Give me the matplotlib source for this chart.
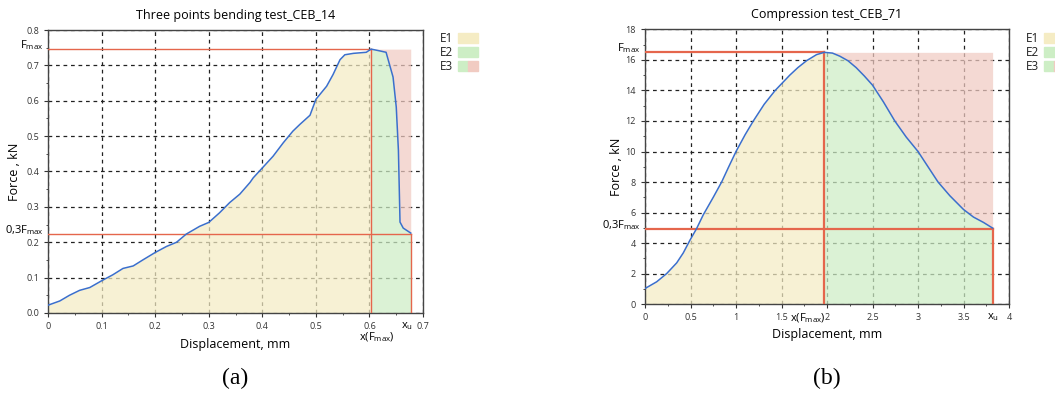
import numpy as np
import matplotlib.pyplot as plt
from matplotlib.patches import Rectangle
from matplotlib.ticker import MultipleLocator

plt.rcParams['font.family'] = ['Open Sans', 'DejaVu Sans']
plt.rcParams['mathtext.default'] = 'regular'

# three points bending test (a)
bend_x = [0.0, 0.022, 0.04, 0.059, 0.078, 0.1, 0.121, 0.14, 0.159, 0.177, 0.2, 0.221,
          0.24, 0.258, 0.283, 0.3, 0.32, 0.339, 0.358, 0.377, 0.383, 0.4, 0.42, 0.439,
          0.457, 0.47, 0.489, 0.5, 0.52, 0.532, 0.545, 0.554, 0.57, 0.594, 0.6, 0.603,
          0.616, 0.631, 0.644, 0.65, 0.654, 0.657, 0.663, 0.677]
bend_f = [0.022, 0.034, 0.05, 0.064, 0.072, 0.091, 0.108, 0.126, 0.133, 0.15, 0.171, 0.188,
          0.2, 0.223, 0.245, 0.256, 0.283, 0.312, 0.336, 0.369, 0.382, 0.41, 0.443, 0.481,
          0.514, 0.533, 0.559, 0.604, 0.641, 0.674, 0.716, 0.73, 0.734, 0.737, 0.743, 0.746,
          0.742, 0.737, 0.667, 0.582, 0.46, 0.257, 0.24, 0.226]

# compression test (b)
comp_x = [0.0, 0.128, 0.238, 0.348, 0.42, 0.494, 0.567, 0.64, 0.75, 0.842, 0.92, 1.0,
          1.1, 1.19, 1.31, 1.43, 1.59, 1.68, 1.775, 1.885, 1.97, 2.06, 2.14, 2.23, 2.32,
          2.41, 2.5, 2.62, 2.745, 2.87, 3.0, 3.11, 3.22, 3.35, 3.5, 3.61, 3.72, 3.82]
comp_f = [1.02, 1.46, 2.0, 2.7, 3.35, 4.19, 4.95, 5.85, 7.0, 8.0, 9.0, 10.0,
          11.1, 12.0, 13.1, 14.0, 15.0, 15.5, 15.95, 16.35, 16.5, 16.45, 16.25, 15.95, 15.5,
          14.95, 14.35, 13.25, 12.0, 10.95, 10.0, 9.0, 8.0, 7.1, 6.2, 5.7, 5.35, 4.98]

panels = [
    dict(x=bend_x, f=bend_f, title='Three points bending test_CEB_14',
         xlim=(0, 0.7), ylim=(0, 0.8), xmaj=0.1, xmin=0.05, ymaj=0.1, ymin=0.05,
         rect=[0.0455, 0.2136, 0.3555, 0.711], lw_red=1.0, cap='(a)',
         xticks=[0, 0.1, 0.2, 0.3, 0.4, 0.5, 0.6, 0.7],
         xticklabels=['0', '0.1', '0.2', '0.3', '0.4', '0.5', '0.6', '0.7']),
    dict(x=comp_x, f=comp_f, title='Compression test_CEB_71',
         xlim=(0, 4), ylim=(0, 18), xmaj=0.5, xmin=0.25, ymaj=2, ymin=1,
         rect=[0.6114, 0.236, 0.345, 0.690], lw_red=1.6, cap='(b)',
         xticks=[0, 0.5, 1, 1.5, 2, 2.5, 3, 3.5, 4],
         xticklabels=['0', '0.5', '1', '1.5', '2', '2.5', '3', '3.5', '4']),
]

c_e1 = '#f5ecc4'
c_e2 = '#cdeec5'
c_e3 = '#f1cbc2'
c_line = '#3b6fcc'
c_red = '#e5664c'

fig = plt.figure(figsize=(10.55, 3.98), dpi=100)

for p in panels:
    ax = fig.add_axes(p['rect'])
    x = np.array(p['x'])
    f = np.array(p['f'])
    i_max = int(np.argmax(f))
    fmax = f[i_max]
    x_fmax = x[i_max]
    xu = x[-1]
    f03 = 0.3 * fmax

    ax.set_xlim(*p['xlim'])
    ax.set_ylim(*p['ylim'])
    ax.xaxis.set_major_locator(MultipleLocator(p['xmaj']))
    ax.xaxis.set_minor_locator(MultipleLocator(p['xmin']))
    ax.yaxis.set_major_locator(MultipleLocator(p['ymaj']))
    ax.yaxis.set_minor_locator(MultipleLocator(p['ymin']))
    ax.grid(True, which='major', color='#222222', linestyle=(0, (3, 3)), linewidth=0.9)
    ax.set_axisbelow(True)

    # energy areas
    ax.fill_between(x[:i_max + 1], 0, f[:i_max + 1], color=c_e1, alpha=0.72, lw=0, zorder=2)
    ax.fill_between(x[i_max:], 0, f[i_max:], color=c_e2, alpha=0.72, lw=0, zorder=2)
    ax.fill_between(x[i_max:], f[i_max:], fmax, color=c_e3, alpha=0.72, lw=0, zorder=2)

    # reference lines
    ax.plot([0, x_fmax], [fmax, fmax], color=c_red, lw=p['lw_red'], zorder=3)
    ax.plot([x_fmax, x_fmax], [0, fmax], color=c_red, lw=p['lw_red'], zorder=3)
    ax.plot([0, xu], [f03, f03], color=c_red, lw=p['lw_red'], zorder=3)
    ax.plot([xu, xu], [0, f03], color=c_red, lw=p['lw_red'], zorder=3)

    ax.plot(x, f, color=c_line, lw=1.1, zorder=4)

    ax.set_xticks(p['xticks'])
    ax.set_xticklabels(p['xticklabels'])
    ax.tick_params(which='major', labelsize=6.5, length=3, width=0.8, colors='#333333')
    ax.tick_params(which='minor', length=1.5, width=0.6, colors='#333333')
    for s in ax.spines.values():
        s.set_color('#444444')
        s.set_linewidth(1.0)

    # special labels on the axes
    yt = ax.get_yaxis_transform()
    xt = ax.get_xaxis_transform()
    span = p['ylim'][1] - p['ylim'][0]
    ax.text(-0.012, fmax + 0.014 * span, r'F$_{max}$', transform=yt, ha='right', va='center', fontsize=8)
    ax.text(-0.012, f03 + 0.012 * span, r'0,3F$_{max}$', transform=yt, ha='right', va='center', fontsize=8)
    if p['cap'] == '(a)':
        ax.text(x_fmax + 0.01, -0.085, r'x(F$_{max}$)', transform=xt, ha='center', va='center', fontsize=8)
        ax.text(xu - 0.006, -0.025, r'x$_{u}$', transform=xt, ha='center', va='top', fontsize=8)
        ax.set_xlabel('Displacement, mm', fontsize=9, labelpad=5)
        ax.set_ylabel('Force , kN', fontsize=9, labelpad=4)
    else:
        ax.text(x_fmax + 0.02, -0.025, r'x(F$_{max}$)', transform=xt, ha='right', va='top', fontsize=8)
        ax.text(xu, -0.025, r'x$_{u}$', transform=xt, ha='center', va='top', fontsize=8)
        ax.set_xlabel('Displacement, mm', fontsize=9, labelpad=4)
        ax.set_ylabel('Force , kN', fontsize=9, labelpad=2)
    ax.set_title(p['title'], fontsize=9, pad=8)

    # legend outside on the right
    l, b, w, h = p['rect']
    tx = l + w + 0.016
    px = tx + 0.017
    for k, name in enumerate(['E1', 'E2', 'E3']):
        yy = 1 - (38 + k * 14) / 398
        fig.text(tx, yy, name, fontsize=8.5, va='center', ha='left', color='#222222')
        pw, ph = 20 / 1055, 9 / 398
        if name == 'E1':
            fig.patches.append(Rectangle((px, yy - ph / 2), pw, ph, transform=fig.transFigure, color=c_e1))
        elif name == 'E2':
            fig.patches.append(Rectangle((px, yy - ph / 2), pw, ph, transform=fig.transFigure, color=c_e2))
        else:
            fig.patches.append(Rectangle((px, yy - ph / 2), pw / 2, ph, transform=fig.transFigure, color=c_e2))
            fig.patches.append(Rectangle((px + pw / 2, yy - ph / 2), pw / 2, ph, transform=fig.transFigure, color=c_e3))

    fig.text(l + w / 2, 1 - 378 / 398, p['cap'],
             fontsize=17, family='Liberation Serif', ha='center', va='center')

fig.savefig('out.png', dpi=100)
